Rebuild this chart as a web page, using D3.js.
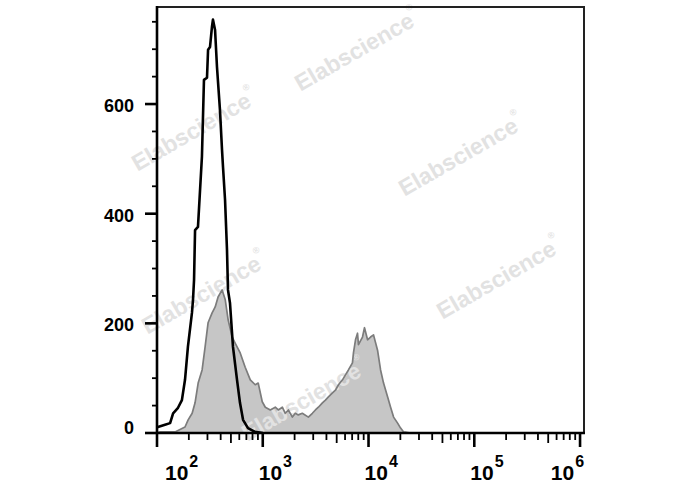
<!DOCTYPE html>
<html><head><meta charset="utf-8">
<script src="https://cdn.jsdelivr.net/npm/d3@7"></script>
<style>html,body{margin:0;padding:0;background:#fff}</style>
</head><body><svg id="c" width="688" height="490"></svg>
<script>
// Isotype control (black outline)
const isoX = [100, 102, 119, 133, 142, 158, 172, 184, 196, 214, 219, 224, 229, 244, 266, 278, 297, 304, 317, 331, 338, 354, 369, 394, 412, 421, 440, 459, 469, 490, 523, 571, 609, 651, 725, 845, 1000];
const isoY = [10, 11, 15, 18, 36, 46, 60, 97, 157, 219, 243, 279, 370, 376, 504, 644, 648, 699, 704, 741, 754, 735, 668, 589, 516, 485, 425, 334, 261, 237, 157, 97, 55, 24, 9, 2, 0];
// Stained sample (grey filled)
const stainX = [100, 107, 148, 184, 197, 215, 229, 245, 267, 285, 304, 332, 355, 378, 413, 442, 471, 514, 548, 612, 682, 762, 849, 906, 989, 1057, 1178, 1313, 1403, 1531, 1633, 1746, 1905, 2032, 2168, 2366, 2698, 2944, 3146, 3357, 3664, 3911, 4178, 4560, 4864, 5198, 5675, 6053, 6457, 7047, 7205, 7534, 7870, 8035, 8770, 9162, 9795, 10450, 11150, 12170, 13000, 13870, 15140, 16170, 17260, 18840, 20100, 21470, 25000];
const stainY = [0, 2, 2, 11, 24, 36, 55, 91, 115, 157, 201, 219, 230, 248, 261, 243, 206, 175, 164, 146, 120, 97, 88, 91, 57, 47, 42, 47, 42, 47, 36, 42, 29, 36, 33, 36, 29, 36, 42, 47, 55, 60, 66, 73, 78, 88, 97, 106, 115, 128, 146, 170, 182, 161, 175, 192, 170, 175, 179, 151, 115, 91, 66, 47, 29, 18, 9, 2, 0];
const yTicks = [0, 200, 400, 600];
const yMinorStep = 50;
const xTickExp = [2, 3, 4, 5, 6];
const watermarkText = "Elabscience";

const svg = d3.select("#c");
const L = 157, R = 584, T = 7, B = 433;
const x = d3.scaleLog().domain([100, 1.09e6]).range([L, R]);
const y = d3.scaleLinear().domain([0, 777]).range([B, T]);
const FONT = "'Liberation Sans', Arial, Helvetica, sans-serif";

svg.append("defs").append("clipPath").attr("id", "plot")
  .append("rect").attr("x", L).attr("y", T).attr("width", R - L).attr("height", B - T);

const stain = stainX.map((v, i) => [v, stainY[i]]);
const iso = isoX.map((v, i) => [v, isoY[i]]);

const g = svg.append("g").attr("clip-path", "url(#plot)");
g.append("path").datum(stain)
  .attr("d", d3.area().x(d => x(d[0])).y0(y(0)).y1(d => y(d[1])))
  .attr("fill", "#c6c6c6").attr("stroke", "none");

// watermarks
const wm = [[357, 50], [194, 130], [461, 155], [204, 293], [499, 278], [304, 400]];
wm.forEach(p => {
  const t = svg.append("text")
    .attr("transform", `translate(${p[0]},${p[1]}) rotate(-30)`)
    .attr("text-anchor", "middle").attr("dominant-baseline", "central")
    .attr("font-family", FONT).attr("font-weight", "bold").attr("font-size", 23)
    .attr("fill", "#e2e2e2");
  t.append("tspan").text(watermarkText);
  t.append("tspan").attr("font-size", 9).attr("dy", -11).text("®");
});

const g2 = svg.append("g").attr("clip-path", "url(#plot)");
g2.append("path").datum(stain)
  .attr("d", d3.line().x(d => x(d[0])).y(d => y(d[1])))
  .attr("fill", "none").attr("stroke", "#7c7c7c").attr("stroke-width", 1.7).attr("stroke-linejoin", "round");
g2.append("path").datum(iso)
  .attr("d", d3.line().x(d => x(d[0])).y(d => y(d[1])))
  .attr("fill", "none").attr("stroke", "#000").attr("stroke-width", 2.6).attr("stroke-linejoin", "round");

// frame top/right
svg.append("path").attr("d", `M${L},${T}H${R}V${B}`)
  .attr("fill", "none").attr("stroke", "#222").attr("stroke-width", 2);

// y axis
svg.append("line").attr("x1", L).attr("x2", L).attr("y1", T - 1).attr("y2", B + 1)
  .attr("stroke", "#000").attr("stroke-width", 2.6);
const yMinor = d3.range(yMinorStep, 777, yMinorStep).filter(v => !yTicks.includes(v));
svg.selectAll(".ymin").data(yMinor).join("line")
  .attr("x1", L - 5).attr("x2", L).attr("y1", d => y(d)).attr("y2", d => y(d))
  .attr("stroke", "#000").attr("stroke-width", 1.8);
svg.selectAll(".ymaj").data(yTicks).join("line")
  .attr("x1", L - 12).attr("x2", L).attr("y1", d => y(d)).attr("y2", d => y(d))
  .attr("stroke", "#000").attr("stroke-width", 2.6);
svg.selectAll(".ylab").data(yTicks).join("text")
  .attr("x", 134).attr("y", d => y(d) + (d === 0 ? -5 : 2))
  .attr("text-anchor", "end").attr("dominant-baseline", "central")
  .attr("font-family", FONT).attr("font-weight", "bold").attr("font-size", 18)
  .attr("fill", "#000").text(d => d);

// x axis
svg.append("line").attr("x1", L).attr("x2", R + 1).attr("y1", B).attr("y2", B)
  .attr("stroke", "#000").attr("stroke-width", 2.6);
const xMinor = [];
xTickExp.slice(0, -1).forEach(e => { for (let k = 2; k <= 9; k++) xMinor.push([k * Math.pow(10, e), k]); });
svg.selectAll(".xmin").data(xMinor).join("line")
  .attr("x1", d => x(d[0])).attr("x2", d => x(d[0]))
  .attr("y1", B).attr("y2", d => B + (d[1] === 5 ? 10 : 7))
  .attr("stroke", "#000").attr("stroke-width", 1.8);
svg.selectAll(".xmaj").data(xTickExp).join("line")
  .attr("x1", d => x(Math.pow(10, d))).attr("x2", d => x(Math.pow(10, d)))
  .attr("y1", B).attr("y2", B + 14)
  .attr("stroke", "#000").attr("stroke-width", 2.6);
xTickExp.forEach((e, i) => {
  const px = x(Math.pow(10, e));
  const last = i === xTickExp.length - 1;
  const t = svg.append("text")
    .attr("x", i === 0 ? px + 8 : last ? px + 4 : px - 4)
    .attr("y", 480)
    .attr("text-anchor", last ? "end" : "start")
    .attr("font-family", FONT).attr("font-weight", "bold").attr("font-size", 21).attr("fill", "#000");
  t.append("tspan").text("10");
  t.append("tspan").attr("font-size", 16).attr("dy", -13).attr("dx", 1).text(e);
});
</script>
</body></html>
